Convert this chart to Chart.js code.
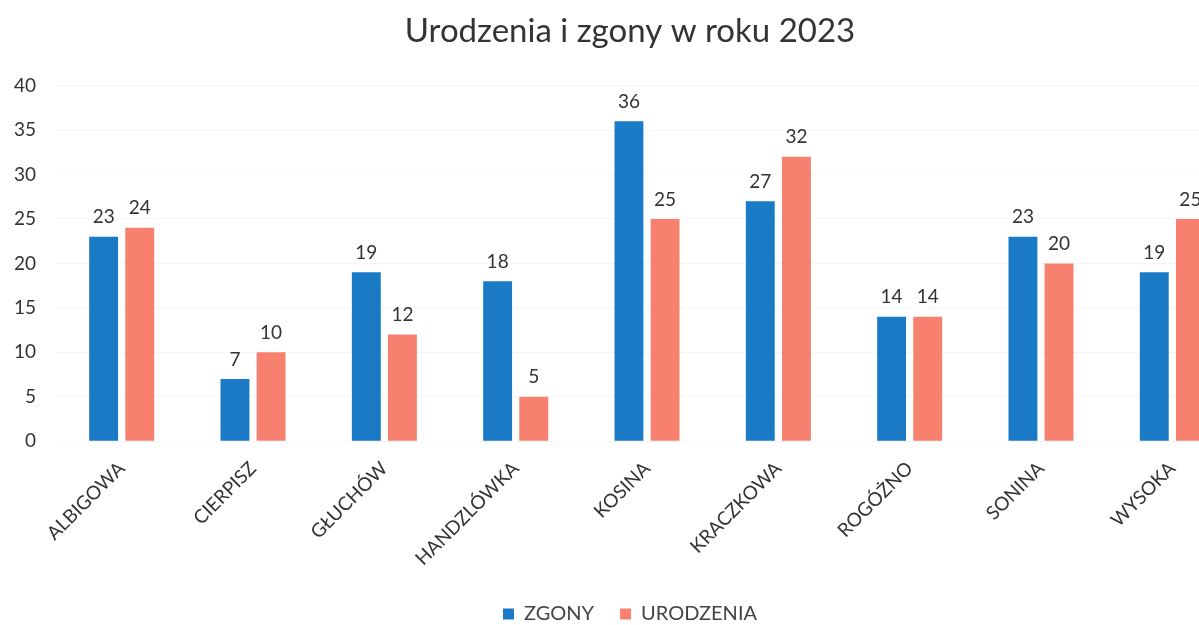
<!DOCTYPE html>
<html lang="pl">
<head>
  <meta charset="UTF-8">
  <title>Urodzenia i zgony w roku 2023</title>
  <script src="https://cdn.jsdelivr.net/npm/chart.js"></script>
  <style>
    html, body {
      margin: 0;
      padding: 0;
      background: #fff;
      overflow: hidden;
    }
    #wrap {
      width: 1260px;
      height: 634px;
    }
  </style>
</head>
<body>

<div id="wrap">
  <canvas id="chart" width="1260" height="634"></canvas>
</div>

<script>
  const villages = ["ALBIGOWA", "CIERPISZ", "GŁUCHÓW", "HANDZLÓWKA", "KOSINA", "KRACZKOWA", "ROGÓŻNO", "SONINA", "WYSOKA"];
  const zgony = [23, 7, 19, 18, 36, 27, 14, 23, 19];
  const urodzenia = [24, 10, 12, 5, 25, 32, 14, 20, 25];

  const FONT = "Lato, 'Open Sans', sans-serif";

  // values above each bar
  const barLabels = {
    id: "barLabels",
    afterDatasetsDraw(chart) {
      const ctx = chart.ctx;
      ctx.save();
      ctx.font = "19px " + FONT;
      ctx.fillStyle = "#333";
      ctx.textAlign = "center";
      ctx.textBaseline = "bottom";
      chart.data.datasets.forEach((ds, i) => {
        chart.getDatasetMeta(i).data.forEach((bar, j) => {
          ctx.fillText(ds.data[j], bar.x, bar.y - 10);
        });
      });
      ctx.restore();
    }
  };

  // center title and legend on the whole canvas, not the padded area
  const centerBlocks = {
    id: "centerBlocks",
    afterLayout(chart) {
      [chart.titleBlock, chart.legend].forEach(b => {
        if (b) { b.left = 0; b.right = chart.width; }
      });
    }
  };

  new Chart(document.getElementById("chart"), {
    type: "bar",
    data: {
      labels: villages,
      datasets: [
        { label: "ZGONY", data: zgony, backgroundColor: "#1a7ac6" },
        { label: "URODZENIA", data: urodzenia, backgroundColor: "#f7806f" }
      ]
    },
    options: {
      responsive: false,
      animation: false,
      categoryPercentage: 0.55,
      barPercentage: 0.8,
      layout: { padding: { left: -6, right: 22, top: 4, bottom: 0 } },
      plugins: {
        title: {
          display: true,
          text: "Urodzenia i zgony w roku 2023",
          color: "#333",
          font: { family: FONT, size: 33, weight: "normal" },
          padding: { top: 8, bottom: 34 }
        },
        legend: {
          position: "bottom",
          labels: {
            color: "#444",
            font: { family: FONT, size: 20 },
            boxWidth: 11,
            boxHeight: 11,
            padding: 26
          }
        },
        tooltip: { enabled: false }
      },
      scales: {
        x: {
          grid: { display: false },
          border: { display: false },
          afterFit(scale) {
            // keep the rotated first label from pushing the plot right
            scale.paddingLeft = 0;
            scale.paddingRight = 0;
          },
          ticks: {
            color: "#333",
            font: { family: FONT, size: 19 },
            minRotation: 45,
            maxRotation: 45,
            padding: 8
          }
        },
        y: {
          min: 0,
          max: 40,
          grid: { color: "#f5f5f5", drawTicks: false },
          border: { display: false },
          ticks: {
            stepSize: 5,
            color: "#333",
            font: { family: FONT, size: 19 },
            padding: 20
          }
        }
      }
    },
    plugins: [barLabels, centerBlocks]
  });
</script>

</body>
</html>
